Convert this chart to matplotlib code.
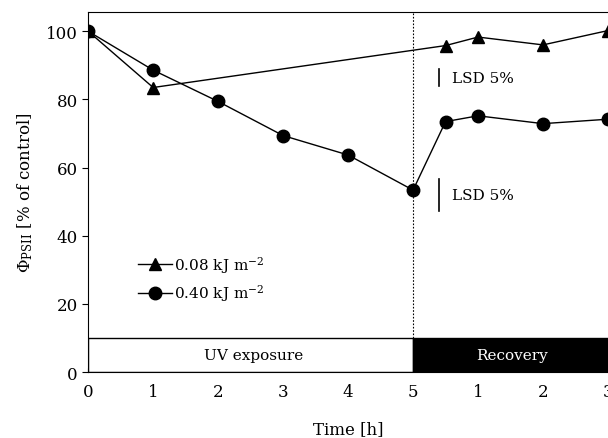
import numpy as np
import matplotlib
matplotlib.use("Agg")
import matplotlib.pyplot as plt
from matplotlib.patches import Rectangle

plt.rcParams['font.family'] = ['DejaVu Serif']
plt.rcParams['mathtext.fontset'] = 'dejavuserif'

# time axis: 0-5 h UV exposure, then recovery hours plotted after 5
t_low = [0, 1, 5.5, 6, 7, 8]
y_low = [100, 83.5, 95.8, 98.3, 96.0, 100.2]
t_high = [0, 1, 2, 3, 4, 5, 5.5, 6, 7, 8]
y_high = [100, 88.6, 79.4, 69.4, 63.7, 53.4, 73.5, 75.2, 72.9, 74.2]

tick_pos = [0, 1, 2, 3, 4, 5, 6, 7, 8]
tick_lab = ['0', '1', '2', '3', '4', '5', '1', '2', '3']

lsd_low = (83.9, 88.9)
lsd_high = (47.2, 56.6)

fig = plt.figure(figsize=(6.08, 4.39), dpi=100)
ax = fig.add_axes([0.145, 0.150, 0.855, 0.820])

ax.plot(t_low, y_low, 'k-', marker='^', ms=8.5, lw=1, label=r'0.08 kJ m$^{-2}$', zorder=4)
ax.plot(t_high, y_high, 'k-', marker='o', ms=9, lw=1, label=r'0.40 kJ m$^{-2}$', zorder=4)

# exposure / recovery band
ax.add_patch(Rectangle((0, 0), 5, 10, facecolor='white', edgecolor='black', lw=1, zorder=2))
ax.add_patch(Rectangle((5, 0), 3.5, 10, facecolor='black', edgecolor='black', lw=1, zorder=2))
ax.text(2.55, 5, 'UV exposure', ha='center', va='center', fontsize=11, zorder=3)
ax.text(6.52, 5, 'Recovery', ha='center', va='center', fontsize=11, color='white', zorder=3)
ax.plot([5, 5], [10, 106], color='black', ls=(0, (1.5, 1.5)), lw=0.8, zorder=1)

# LSD bars
for lo, hi in (lsd_low, lsd_high):
    ax.plot([5.4, 5.4], [lo, hi], 'k-', lw=1.2)
    ax.text(5.6, (lo + hi) / 2, 'LSD 5%', va='center', ha='left', fontsize=11)

ax.set_xlim(0, 8)
ax.set_ylim(0, 105.6)
ax.set_xticks(tick_pos)
ax.set_xticklabels(tick_lab)
ax.set_yticks([0, 20, 40, 60, 80, 100])
ax.tick_params(axis='x', direction='in', length=3, labelsize=12, pad=8)
ax.tick_params(axis='y', direction='out', length=4, labelsize=12)
ax.spines['right'].set_visible(False)
for s in ('left', 'top', 'bottom'):
    ax.spines[s].set_linewidth(0.8)

ax.set_xlabel('Time [h]', fontsize=12, labelpad=14)
ax.set_ylabel(r'$\Phi_{\mathrm{PSII}}$ [% of control]', fontsize=12, labelpad=8)

ax.legend(loc='center left', bbox_to_anchor=(0.07, 0.26), frameon=False,
          fontsize=11, handlelength=2.2, handletextpad=0.15, labelspacing=0.5)

plt.savefig("out.png", dpi=100)
